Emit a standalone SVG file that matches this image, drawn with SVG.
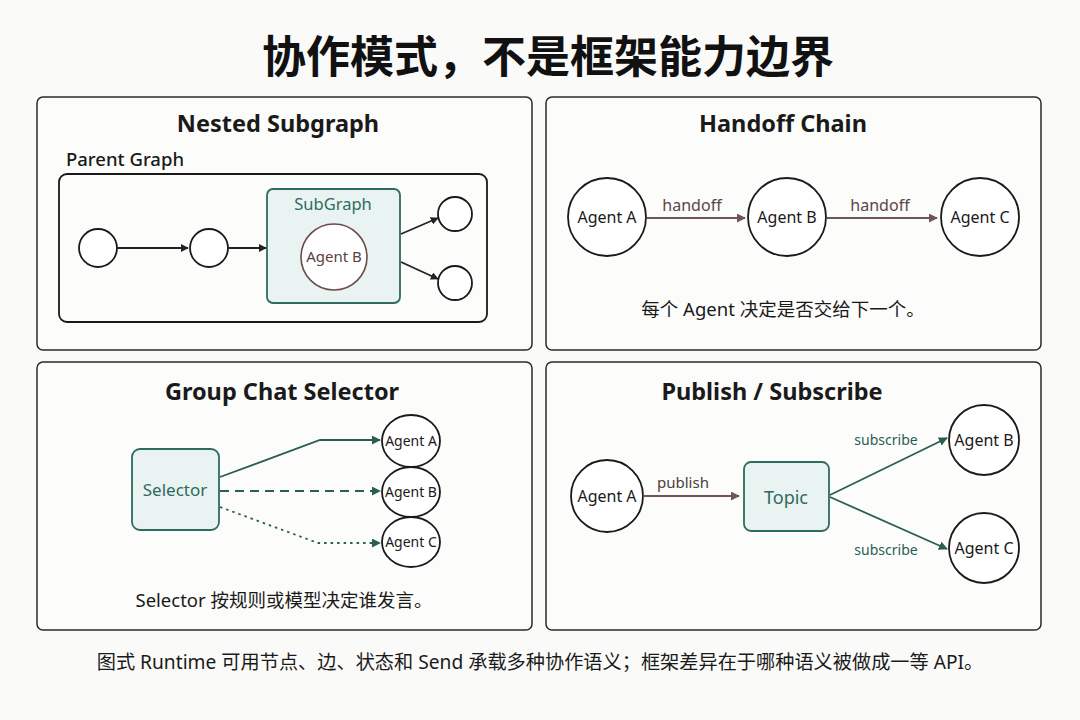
<svg xmlns="http://www.w3.org/2000/svg" width="1080" height="720" viewBox="0 0 1080 720">
<defs>
<style>
text{font-family:"Noto Sans","Noto Sans CJK SC",sans-serif;}
.title{font-family:"Noto Sans CJK SC","Noto Sans",sans-serif;font-size:44px;font-weight:700;fill:#111;}
.ptitle{font-size:23.5px;font-weight:700;fill:#1a1a1a;}
.panel{fill:#fcfcfb;stroke:#2a2a2a;stroke-width:1.5;}
.node{fill:#fff;stroke:#1a1a1a;stroke-width:1.8;}
.tnode{fill:#e9f3f1;stroke:#2f6b5e;stroke-width:1.8;}
.lbl{font-size:16px;fill:#1a1a1a;}
.tlbl{fill:#2f6b5e;}
.cap{font-family:"Noto Sans","Noto Sans CJK SC",sans-serif;font-size:18.5px;fill:#1a1a1a;}
.blk{stroke:#222;stroke-width:1.8;fill:none;}
.brn{stroke:#6e5656;stroke-width:1.8;fill:none;}
.grn{stroke:#2a5e53;stroke-width:1.8;fill:none;}
</style>
<marker id="ab" viewBox="0 0 10 10" refX="9" refY="5" markerWidth="8" markerHeight="8" orient="auto" markerUnits="userSpaceOnUse"><path d="M0,0 L10,5 L0,10 z" fill="#222"/></marker>
<marker id="ar" viewBox="0 0 10 10" refX="9" refY="5" markerWidth="9" markerHeight="9" orient="auto" markerUnits="userSpaceOnUse"><path d="M0,0 L10,5 L0,10 z" fill="#6e5656"/></marker>
<marker id="ag" viewBox="0 0 10 10" refX="9" refY="5" markerWidth="9" markerHeight="9" orient="auto" markerUnits="userSpaceOnUse"><path d="M0,0 L10,5 L0,10 z" fill="#2a5e53"/></marker>
</defs>
<rect width="1080" height="720" fill="#fafaf9"/>
<text class="title" x="548" y="73" text-anchor="middle">协作模式，不是框架能力边界</text>

<g id="panel-nested">
<rect class="panel" x="37" y="97" width="495" height="253" rx="6"/>
<text class="ptitle" x="278" y="132" text-anchor="middle">Nested Subgraph</text>
<text x="66" y="166" font-size="18.5" font-weight="500" fill="#1a1a1a">Parent Graph</text>
<rect x="59" y="174" width="428" height="148" rx="8" fill="none" stroke="#1a1a1a" stroke-width="1.8"/>
</g>
<g id="n1"><circle class="node" cx="98" cy="248" r="19"/></g>
<g id="n2"><circle class="node" cx="209" cy="248" r="19"/></g>
<g id="subgraph">
<rect class="tnode" x="267" y="189" width="133" height="114" rx="6"/>
<text x="333" y="210" font-size="16.5" text-anchor="middle" class="tlbl">SubGraph</text>
</g>
<g id="sub-agentB">
<circle cx="334" cy="257" r="33" fill="#fff" stroke="#6e4a4a" stroke-width="1.6"/>
<text x="334" y="262" font-size="15" text-anchor="middle" fill="#5a4242">Agent B</text>
</g>
<g id="n3"><circle class="node" cx="455" cy="214" r="17"/></g>
<g id="n4"><circle class="node" cx="455" cy="283" r="17"/></g>

<g id="panel-handoff">
<rect class="panel" x="546" y="97" width="495" height="253" rx="6"/>
<text class="ptitle" x="783" y="132" text-anchor="middle">Handoff Chain</text>
<text class="cap" x="783" y="316" text-anchor="middle">每个 Agent 决定是否交给下一个。</text>
</g>
<g id="h-agentA"><circle class="node" cx="607" cy="217" r="39"/><text class="lbl" x="607" y="223" text-anchor="middle">Agent A</text></g>
<g id="h-agentB"><circle class="node" cx="787" cy="217" r="39"/><text class="lbl" x="787" y="223" text-anchor="middle">Agent B</text></g>
<g id="h-agentC"><circle class="node" cx="980" cy="217" r="39"/><text class="lbl" x="980" y="223" text-anchor="middle">Agent C</text></g>

<g id="panel-groupchat">
<rect class="panel" x="37" y="362" width="495" height="268" rx="6"/>
<text class="ptitle" x="282" y="400" text-anchor="middle">Group Chat Selector</text>
<text class="cap" x="284" y="607" text-anchor="middle">Selector 按规则或模型决定谁发言。</text>
</g>
<g id="selector">
<rect class="tnode" x="132" y="449" width="87" height="81" rx="8"/>
<text x="175" y="496" font-size="17" text-anchor="middle" class="tlbl">Selector</text>
</g>
<g id="g-agentA"><ellipse class="node" cx="411" cy="441" rx="29" ry="26"/><text x="411" y="446" font-size="14" text-anchor="middle" fill="#1a1a1a">Agent A</text></g>
<g id="g-agentB"><ellipse class="node" cx="411" cy="492" rx="29" ry="25"/><text x="411" y="497" font-size="14" text-anchor="middle" fill="#1a1a1a">Agent B</text></g>
<g id="g-agentC"><ellipse class="node" cx="411" cy="542" rx="29" ry="25"/><text x="411" y="547" font-size="14" text-anchor="middle" fill="#1a1a1a">Agent C</text></g>

<g id="panel-pubsub">
<rect class="panel" x="546" y="362" width="495" height="268" rx="6"/>
<text class="ptitle" x="772" y="400" text-anchor="middle">Publish / Subscribe</text>
</g>
<g id="p-agentA"><circle class="node" cx="607" cy="496" r="36"/><text class="lbl" x="607" y="502" text-anchor="middle">Agent A</text></g>
<g id="topic">
<rect class="tnode" x="744" y="462" width="85" height="69" rx="7"/>
<text x="786" y="504" font-size="18" text-anchor="middle" class="tlbl">Topic</text>
</g>
<g id="p-agentB"><circle class="node" cx="984" cy="440" r="35"/><text class="lbl" x="984" y="446" text-anchor="middle">Agent B</text></g>
<g id="p-agentC"><circle class="node" cx="984" cy="548" r="35"/><text class="lbl" x="984" y="554" text-anchor="middle">Agent C</text></g>

<g id="connectors">
<line class="blk" x1="117" y1="248" x2="188" y2="248" marker-end="url(#ab)"/>
<line class="blk" x1="228" y1="248" x2="266" y2="248" marker-end="url(#ab)"/>
<line class="blk" x1="401" y1="234" x2="438" y2="218" marker-end="url(#ab)"/>
<line class="blk" x1="401" y1="262" x2="438" y2="279" marker-end="url(#ab)"/>

<line class="brn" x1="647" y1="218" x2="745" y2="218" marker-end="url(#ar)"/>
<text x="692" y="211" font-size="16" text-anchor="middle" fill="#5a4646">handoff</text>
<line class="brn" x1="827" y1="218" x2="937" y2="218" marker-end="url(#ar)"/>
<text x="880" y="211" font-size="16" text-anchor="middle" fill="#5a4646">handoff</text>

<polyline class="grn" points="220,477 320,440 380,440" marker-end="url(#ag)"/>
<line class="grn" x1="220" y1="491" x2="380" y2="491" stroke-dasharray="9,6" marker-end="url(#ag)"/>
<polyline class="grn" points="220,507 318,543 380,543" stroke-dasharray="2.5,4" marker-end="url(#ag)"/>

<line class="brn" x1="643" y1="496" x2="739" y2="496" marker-end="url(#ar)"/>
<text x="683" y="488" font-size="15" text-anchor="middle" fill="#4a3c3c">publish</text>
<line class="grn" x1="830" y1="495" x2="947" y2="438" marker-end="url(#ag)"/>
<line class="grn" x1="830" y1="497" x2="947" y2="549" marker-end="url(#ag)"/>
<text x="886" y="445" font-size="14" text-anchor="middle" fill="#2a5e53">subscribe</text>
<text x="886" y="555" font-size="14" text-anchor="middle" fill="#2a5e53">subscribe</text>
</g>

<text class="cap" x="540" y="669" text-anchor="middle" style="font-size:19.2px">图式 Runtime 可用节点、边、状态和 Send 承载多种协作语义；框架差异在于哪种语义被做成一等 API。</text>
</svg>
